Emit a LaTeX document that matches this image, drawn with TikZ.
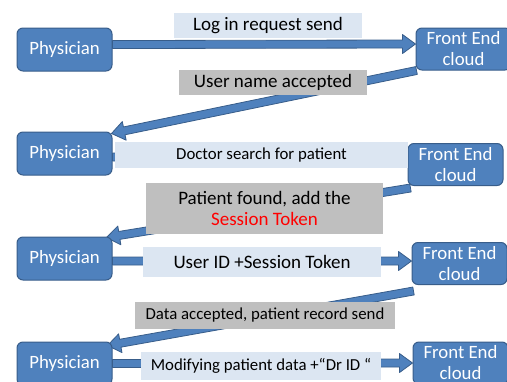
\documentclass[tikz,border=0pt]{standalone}
\usepackage{fontspec}
\setmainfont{Carlito}
\usetikzlibrary{calc}
\definecolor{boxblue}{HTML}{4F81BD}
\definecolor{boxline}{HTML}{385D8A}
\definecolor{msglight}{HTML}{DCE6F2}
\definecolor{msggray}{HTML}{BFBFBF}
\pgfdeclarelayer{back}
\pgfsetlayers{back,main}
% block arrow from #1 (tail) to #2 (tip)
\newcommand\flowarrow[2]{%
  \coordinate (fa-s) at (#1);
  \coordinate (fa-t) at (#2);
  \coordinate (fa-b) at ($(fa-t)!13pt!(fa-s)$);
  \filldraw[flow] ($(fa-s)!4pt!90:(fa-t)$) -- ($(fa-b)!4pt!90:(fa-t)$)
    -- ($(fa-b)!9.5pt!90:(fa-t)$) -- (fa-t) -- ($(fa-b)!9.5pt!-90:(fa-t)$)
    -- ($(fa-b)!4pt!-90:(fa-t)$) -- ($(fa-s)!4pt!-90:(fa-t)$) -- cycle;}
\tikzset{
  party/.style={draw=boxline, fill=boxblue, line width=1pt, rounded corners=6pt,
    minimum width=95pt, minimum height=43pt, inner sep=1pt, text=white,
    align=center, font=\fontsize{18.8}{21}\selectfont},
  msg/.style={inner sep=0pt, align=center, text=black,
    font=\fontsize{19}{21}\selectfont},
  msgsmall/.style={msg, font=\fontsize{16.8}{20}\selectfont},
  request/.style={fill=msglight},
  reply/.style={fill=msggray},
  flow/.style={fill=boxblue, draw=boxline, line width=0.8pt, line join=round}
}
\begin{document}
\begin{tikzpicture}[x=1pt, y=-1pt]
\useasboundingbox (0,0) rectangle (507,381);
% participants
\node[party] (P1) at (64.5,49.5) {Physician};
\node[party] (P2) at (64.5,153.5) {Physician};
\node[party] (P3) at (64.5,258.5) {Physician};
\node[party] (P4) at (64.5,363.5) {Physician};
\node[party, minimum height=42pt] (F1) at (463.5,49) {Front End\\cloud};
\node[party, minimum height=42pt] (F2) at (455.5,164.5) {Front End\\cloud};
\node[party, minimum height=42pt] (F3) at (459.5,263.5) {Front End\\cloud};
\node[party, minimum height=42pt] (F4) at (460.5,363) {Front End\\cloud};
% message labels
\node[msg, request, minimum width=188pt, minimum height=25pt] (L1) at (268,25.5) {Log in request send};
\node[msg, reply, minimum width=188pt, minimum height=25pt] (L2) at (273,82.5) {User name accepted};
\node[msgsmall, request, minimum width=293pt, minimum height=26pt] (L3) at (261.5,155) {Doctor search for patient};
\node[msg, reply, minimum width=237pt, minimum height=51pt] (L4) at (264.5,208.5) {Patient found, add the\\\textcolor{red}{Session Token}};
\node[msg, request, minimum width=238pt, minimum height=30pt] (L5) at (262,262) {User ID +Session Token};
\node[msgsmall, reply, minimum width=260pt, minimum height=27pt] (L6) at (265,315.5) {Data accepted, patient record send};
\node[msgsmall, request, minimum width=240pt, minimum height=28pt] (L7) at (261,366) {Modifying patient data +“Dr ID “};
% message arrows, behind boxes and labels
\begin{pgfonlayer}{back}
\flowarrow{[yshift=5pt]P1.east}{[yshift=5pt]F1.west}
\flowarrow{[xshift=1pt]F1.south west}{[xshift=-1pt,yshift=-2pt]P2.north east}
\flowarrow{[yshift=-3.5pt]P2.east}{[yshift=7.5pt]F2.west}
\flowarrow{[xshift=3pt,yshift=-2pt]F2.south west}{[xshift=-6pt,yshift=-1pt]P3.north east}
\flowarrow{[yshift=-2.5pt]P3.east}{[yshift=2.5pt]F3.west}
\flowarrow{[xshift=2pt,yshift=-6pt]F3.south west}{[xshift=-5pt,yshift=-4pt]P4.north east}
\flowarrow{P4.east}{F4.west}
\end{pgfonlayer}
\end{tikzpicture}
\end{document}
